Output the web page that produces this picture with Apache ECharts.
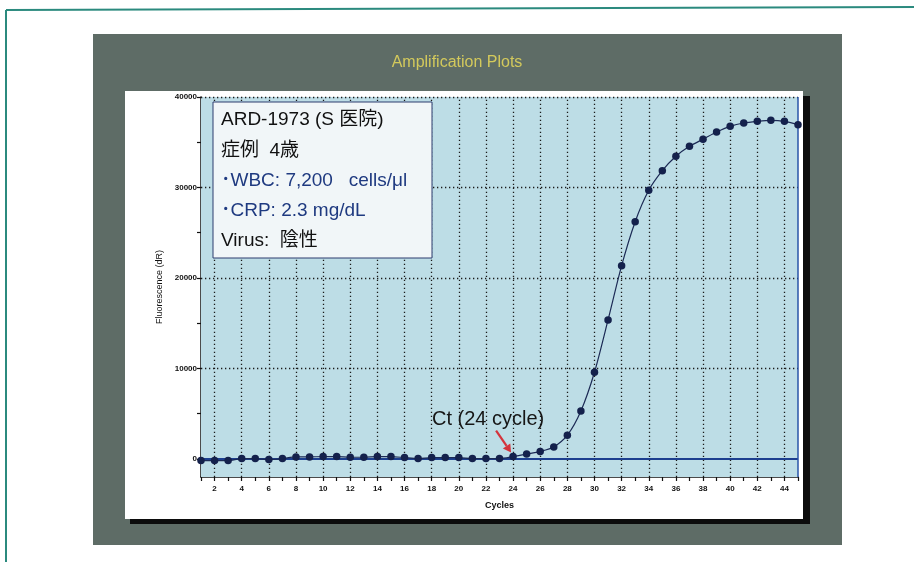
<!DOCTYPE html>
<html>
<head>
<meta charset="utf-8">
<script src="https://cdn.jsdelivr.net/npm/echarts@6/dist/echarts.min.js"></script>
<style>
  html, body { margin: 0; padding: 0; background: #ffffff; }
  #chart { width: 914px; height: 562px; }
</style>
</head>
<body>
<div id="chart"></div>
<script>
// PCR cycle numbers and fluorescence readings (dR)
const cycles = [1, 2, 3, 4, 5, 6, 7, 8, 9, 10, 11, 12, 13, 14, 15, 16, 17, 18, 19, 20, 21, 22, 23,
  24, 25, 26, 27, 28, 29, 30, 31, 32, 33, 34, 35, 36, 37, 38, 39, 40, 41, 42, 43, 44, 45];
const fluorescence = [-185, -185, -185, 35, 35, -75, 35, 220, 220, 255, 255, 185, 185, 255, 255, 145,
  35, 145, 145, 145, 35, 35, 35, 255, 530, 830, 1325, 2620, 5300, 9580, 15360, 21360, 26220, 29690,
  31860, 33450, 34550, 35330, 36130, 36760, 37130, 37310, 37420, 37310, 36940];

// Axis ticks and labels
const xLabelValues = [2, 4, 6, 8, 10, 12, 14, 16, 18, 20, 22, 24, 26, 28, 30, 32, 34, 36, 38, 40, 42, 44];
const yLabelValues = [0, 10000, 20000, 30000, 40000];
const yTickValues = [0, 5000, 10000, 15000, 20000, 25000, 30000, 35000, 40000];
const threshold = 0;
const ctCycle = 24;

const infoLines = [
  { text: 'ARD-1973 (S 医院)', color: '#111111' },
  { text: '症例  4歳', color: '#111111' },
  { text: '･WBC: 7,200   cells/μl', color: '#1f3a80' },
  { text: '･CRP: 2.3 mg/dL', color: '#1f3a80' },
  { text: 'Virus:  陰性', color: '#111111' }
];

const FONT = '"Liberation Sans", Arial, "Noto Sans CJK JP", sans-serif';
const NARROW = '"Liberation Sans Narrow", "Arial Narrow", "Liberation Sans", sans-serif';

const chart = echarts.init(document.getElementById('chart'), null, { renderer: 'canvas' });

const points = cycles.map((c, i) => [c, fluorescence[i]]);
const dotted = { type: [1.3, 2.7], color: '#1b1b1b', width: 1.3 };

const gridLines = []
  .concat(xLabelValues.map(v => ({ xAxis: v, lineStyle: dotted })))
  .concat(yLabelValues.filter(v => v > 0).map(v => ({ yAxis: v, lineStyle: dotted })))
  .concat([{ yAxis: threshold, lineStyle: { type: 'solid', color: '#1d3f8f', width: 2.2 } }])
  .concat([{ xAxis: cycles[cycles.length - 1], lineStyle: { type: 'solid', color: '#2a55a8', width: 1.5 } }]);

const decorations = [
  // page frame lines
  { type: 'line', shape: { x1: 6, y1: 10, x2: 914, y2: 7 }, style: { stroke: '#2b8a7e', lineWidth: 2 }, z: 0 },
  { type: 'line', shape: { x1: 6, y1: 10, x2: 6, y2: 562 }, style: { stroke: '#2b8a7e', lineWidth: 2 }, z: 0 },
  // dark panel
  { type: 'rect', shape: { x: 93, y: 34, width: 749, height: 511 }, style: { fill: '#5e6c66' }, z: -10, silent: true },
  // card shadow and card
  { type: 'rect', shape: { x: 130, y: 96, width: 680, height: 428 }, style: { fill: '#0c0c0c' }, z: -9, silent: true },
  { type: 'rect', shape: { x: 125, y: 91, width: 678, height: 428 }, style: { fill: '#ffffff' }, z: -8, silent: true },
  // title
  { type: 'text', left: 'center', top: 55, style: { text: 'Amplification Plots', fill: '#d3c95c', font: '16px ' + FONT, textAlign: 'center' }, z: 5 },
  // info box
  { type: 'rect', shape: { x: 213, y: 102, width: 219, height: 156 }, style: { fill: '#f1f6f8', stroke: '#2c3d6e', lineWidth: 1 }, z: 20 }
].concat(infoLines.map((l, i) => ({
  type: 'text', x: 221, y: 120 + i * 30.3, z: 21,
  style: { text: l.text, fill: l.color, font: '19px ' + FONT, textVerticalAlign: 'middle' }
})));

chart.setOption({
  animation: false,
  backgroundColor: 'transparent',
  grid: {
    left: 201, top: 97, width: 597, height: 380,
    show: true, backgroundColor: '#bddde6', borderWidth: 0, z: 1
  },
  xAxis: {
    type: 'value', min: 1, max: 45, interval: 1,
    name: 'Cycles', nameLocation: 'middle', nameGap: 24,
    nameTextStyle: { fontFamily: NARROW, fontSize: 9, fontWeight: 'bold', color: '#111' },
    axisLine: { show: true, onZero: false, lineStyle: { color: '#111', width: 1.5 } },
    axisTick: { show: true, length: 4, lineStyle: { color: '#111', width: 1.2 } },
    axisLabel: {
      fontFamily: NARROW, fontSize: 8, fontWeight: 'bold', color: '#111', margin: 8,
      formatter: v => (xLabelValues.indexOf(v) >= 0 ? String(v) : '')
    },
    splitLine: { show: false }
  },
  yAxis: {
    type: 'value', min: -2000, max: 40000,
    name: 'Fluorescence (dR)', nameLocation: 'middle', nameGap: 31,
    nameTextStyle: { fontFamily: FONT, fontSize: 9, color: '#111' },
    axisLine: { show: true, onZero: false, lineStyle: { color: '#111', width: 1.5 } },
    axisTick: { show: true, length: 4, customValues: yTickValues, lineStyle: { color: '#111', width: 1.2 } },
    axisLabel: {
      customValues: yLabelValues, fontFamily: NARROW, fontSize: 8, fontWeight: 'bold', color: '#111', margin: 4,
      formatter: v => String(v)
    },
    splitLine: { show: false }
  },
  series: [{
    type: 'line',
    data: points,
    smooth: 0.25,
    symbol: 'circle', symbolSize: 7.5,
    itemStyle: { color: '#14214c' },
    lineStyle: { color: '#1c2a55', width: 1.2 },
    z: 10,
    markLine: {
      silent: true, symbol: 'none', label: { show: false },
      animation: false, z: 5,
      data: gridLines
    }
  }],
  graphic: decorations
});

// Ct annotation anchored to the cycle-24 reading
const ctPt = chart.convertToPixel({ gridIndex: 0 }, [ctCycle, fluorescence[ctCycle - 1]]);
const tip = [ctPt[0] - 2, ctPt[1] - 4];
const tail = [tip[0] - 15, tip[1] - 22];
const ang = Math.atan2(tip[1] - tail[1], tip[0] - tail[0]);
const hl = 8, hw = 4.5;
const base = [tip[0] - hl * Math.cos(ang), tip[1] - hl * Math.sin(ang)];
const head = [
  tip,
  [base[0] + hw * Math.sin(ang), base[1] - hw * Math.cos(ang)],
  [base[0] - hw * Math.sin(ang), base[1] + hw * Math.cos(ang)]
];
chart.setOption({
  graphic: decorations.concat([
    { type: 'text', x: tip[0] - 23, y: tip[1] - 33, z: 30,
      style: { text: 'Ct (24 cycle)', fill: '#161616', font: '20px ' + FONT, textAlign: 'center', textVerticalAlign: 'middle' } },
    { type: 'line', shape: { x1: tail[0], y1: tail[1], x2: base[0], y2: base[1] }, style: { stroke: '#d4333c', lineWidth: 2.2 }, z: 30 },
    { type: 'polygon', shape: { points: head }, style: { fill: '#d4333c' }, z: 30 }
  ])
});
</script>
</body>
</html>
